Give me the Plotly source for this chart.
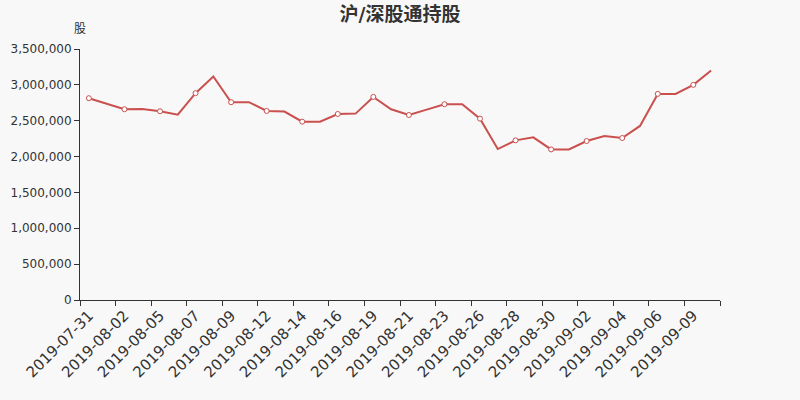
import plotly.graph_objects as go

dates = [
    "2019-07-31", "2019-08-01", "2019-08-02", "2019-08-04", "2019-08-05", "2019-08-06",
    "2019-08-07", "2019-08-08", "2019-08-09", "2019-08-11", "2019-08-12", "2019-08-13",
    "2019-08-14", "2019-08-15", "2019-08-16", "2019-08-18", "2019-08-19", "2019-08-20",
    "2019-08-21", "2019-08-22", "2019-08-23", "2019-08-25", "2019-08-26", "2019-08-27",
    "2019-08-28", "2019-08-29", "2019-08-30", "2019-09-01", "2019-09-02", "2019-09-03",
    "2019-09-04", "2019-09-05", "2019-09-06", "2019-09-08", "2019-09-09", "2019-09-10",
]
holdings = [
    2814000, 2740000, 2660000, 2663000, 2632000, 2585000,
    2884000, 3116000, 2758000, 2758000, 2636000, 2627000,
    2487000, 2487000, 2594000, 2599000, 2832000, 2660000,
    2580000, 2655000, 2730000, 2730000, 2529000, 2105000,
    2226000, 2268000, 2100000, 2100000, 2217000, 2287000,
    2259000, 2427000, 2874000, 2874000, 3000000, 3200000,
]
y_ticks = [0, 500000, 1000000, 1500000, 2000000, 2500000, 3000000, 3500000]

title_text = "沪/深股通持股"
y_name = "股"

line_color = "#c9504e"
axis_color = "#333333"
bg = "#f8f8f8"
font_family = "DejaVu Sans, Noto Sans CJK SC, sans-serif"

idx = list(range(len(dates)))
label_idx = idx[::2]

fig = go.Figure()
fig.add_trace(go.Scatter(
    x=idx, y=holdings, mode="lines",
    line=dict(color=line_color, width=2),
    hoverinfo="skip", showlegend=False,
))
fig.add_trace(go.Scatter(
    x=label_idx, y=holdings[::2], mode="markers",
    marker=dict(symbol="circle", size=5, color="#ffffff",
                line=dict(color=line_color, width=1)),
    showlegend=False,
))

boundaries = [i - 0.5 for i in label_idx] + [len(dates) - 0.5]

fig.update_layout(
    width=800, height=400,
    paper_bgcolor=bg, plot_bgcolor=bg,
    margin=dict(l=80, r=80, t=49, b=100),
    font=dict(family=font_family, color=axis_color, size=12),
    title=dict(text="<b>" + title_text + "</b>", x=0.5, xanchor="center",
               y=1 - 14 / 400, yanchor="middle",
               font=dict(size=19, color=axis_color, family=font_family)),
    xaxis=dict(
        range=[-0.5, len(dates) - 0.5], automargin=False,
        tickmode="array", tickvals=label_idx,
        ticktext=[dates[i] for i in label_idx],
        tickangle=-45, ticks="", showgrid=False, zeroline=False,
        showline=True, linecolor=axis_color, linewidth=1,
        tickfont=dict(size=15, color=axis_color),
        minor=dict(tickmode="array", tickvals=boundaries, ticks="outside",
                   ticklen=5, tickcolor=axis_color, showgrid=False),
    ),
    yaxis=dict(
        range=[0, 3500000], tickmode="array", tickvals=y_ticks, automargin=False,
        tickformat=",", ticks="outside", ticklen=5, tickcolor=axis_color,
        showgrid=False, zeroline=False,
        showline=True, linecolor=axis_color, linewidth=1,
        tickfont=dict(size=12, color=axis_color),
    ),
    annotations=[dict(
        text=y_name, xref="paper", yref="paper", x=0, y=1,
        xanchor="center", yanchor="middle", yshift=20, showarrow=False,
        font=dict(size=12, color=axis_color),
    )],
)

fig.write_html(
    "out.html",
    config={"displayModeBar": False},
    post_script="document.body.style.margin='0';document.body.style.background='%s';" % bg,
)
